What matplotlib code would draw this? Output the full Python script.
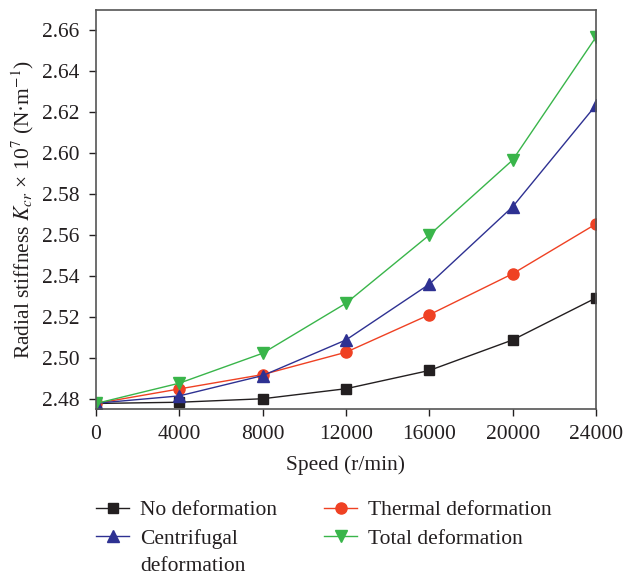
import matplotlib
matplotlib.use("Agg")
import matplotlib.pyplot as plt

plt.rcParams['font.family'] = ['Liberation Serif', 'DejaVu Serif']
plt.rcParams['mathtext.fontset'] = 'stix'

speed = [0, 4000, 8000, 12000, 16000, 20000, 24000]
no_deformation = [2.4778, 2.4784, 2.4801, 2.4850, 2.4939, 2.5088, 2.5293]
thermal = [2.4778, 2.4849, 2.4919, 2.5028, 2.5211, 2.5411, 2.5654]
centrifugal = [2.4779, 2.4815, 2.4914, 2.5088, 2.5360, 2.5738, 2.6234]
total = [2.4778, 2.4877, 2.5023, 2.5267, 2.5600, 2.5966, 2.6566]

xticks = [0, 4000, 8000, 12000, 16000, 20000, 24000]
yticks = [2.48, 2.50, 2.52, 2.54, 2.56, 2.58, 2.60, 2.62, 2.64, 2.66]

FS = 15.5
TEXT = '#231f20'
W, H = 624, 577

fig = plt.figure(figsize=(W / 100, H / 100), dpi=100)
ax = fig.add_axes([96 / W, 1 - 409 / H, 500 / W, 399 / H])

lw = 1.0
h1, = ax.plot(speed, no_deformation, color='#231f20', marker='s', ms=7, lw=lw,
              label='No deformation')
h2, = ax.plot(speed, thermal, color='#ef4123', marker='o', ms=8, lw=lw,
              label='Thermal deformation')
h3, = ax.plot(speed, centrifugal, color='#2e3192', marker='^', ms=8.5, lw=lw,
              label='Centrifugal')
h4, = ax.plot(speed, total, color='#39b54a', marker='v', ms=8.5, lw=lw,
              label='Total deformation')

ax.set_xlim(0, 24000)
ax.set_ylim(2.4751, 2.6698)
ax.set_xticks(xticks)
ax.set_yticks(yticks)
ax.set_yticklabels([f"{v:.2f}" for v in yticks])
ax.tick_params(axis='both', direction='out', length=5, width=1, labelsize=FS,
               colors=TEXT)
ax.tick_params(axis='x', pad=6.5)
ax.tick_params(axis='y', pad=7)
for s in ax.spines.values():
    s.set_color('#555555')
    s.set_linewidth(1.2)

ax.set_xlabel('Speed (r/min)', fontsize=FS, color=TEXT, labelpad=8)
ax.set_ylabel(r'Radial stiffness $K_{cr}$ × 10$^{7}$ (N·m$^{-1}$)', fontsize=FS,
              color=TEXT, labelpad=4)

leg_kw = dict(loc='upper left', frameon=False, fontsize=FS, borderpad=0,
              borderaxespad=0, handlelength=1.55, handletextpad=0.5,
              labelspacing=0.4, labelcolor=TEXT)
leg1 = fig.legend(handles=[h1, h3], bbox_to_anchor=(96 / W, 1 - 500 / H), **leg_kw)
leg2 = fig.legend(handles=[h2, h4], bbox_to_anchor=(324 / W, 1 - 500 / H), **leg_kw)

# second line of the "Centrifugal deformation" entry, under its first line
fig.canvas.draw()
bb = leg1.get_texts()[1].get_window_extent()
fig.text(bb.x0 / W, (bb.y0 - 27) / H, 'deformation', fontsize=FS, color=TEXT,
         ha='left', va='bottom')

fig.savefig('out.png', dpi=100)
